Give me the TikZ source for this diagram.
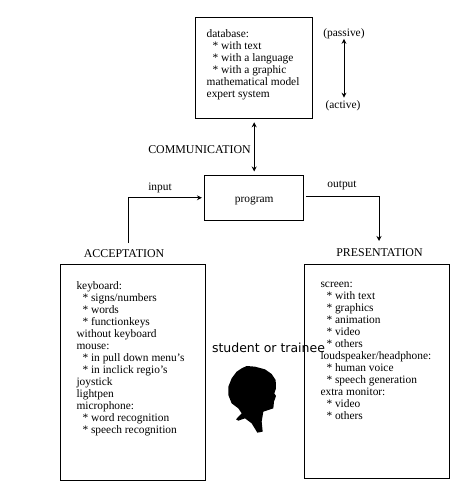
\documentclass[tikz,border=0pt]{standalone}
\usepackage{fontspec}
\setmainfont{Liberation Serif}
\newfontfamily\pixelsans{DejaVu Sans}
\usetikzlibrary{arrows.meta, positioning}

\begin{document}
\begin{tikzpicture}[
        x=1pt, y=-1pt,
        box/.style={draw, rectangle, line width=1pt, inner sep=0pt},
        listtext/.style={inner sep=0pt, align=left, font=\fontsize{11.4}{12}\selectfont},
        label/.style={inner sep=0pt, font=\fontsize{11.4}{12}\selectfont},
        heading/.style={inner sep=0pt, font=\fontsize{11.9}{12}\selectfont},
        arrow/.style={line width=0.9pt, >={Stealth[length=5pt,width=5pt]}}
    ]
        \useasboundingbox (0,0) rectangle (450,481);

        \node[box, minimum width=117.4pt, minimum height=101pt] (database) at (254.2,67.8) {};
        \node[box, minimum width=99.5pt, minimum height=44.5pt, below=56.2pt of database, text height=9.2pt, text depth=0pt, font=\fontsize{11.4}{12}\selectfont] (program) {program};
        \node[box, minimum width=145pt, minimum height=216pt] (acceptbox) at (132.8,372.3) {};
        \node[box, minimum width=145pt, minimum height=214pt] (presentbox) at (376.8,371.2) {};

        \node[listtext, below right=13pt and 11.5pt of database.north west] (databasetext) {database:\\
            \hspace*{6pt}* with text\\
            \hspace*{6pt}* with a language\\
            \hspace*{6pt}* with a graphic\\
            mathematical model\\
            expert system};
        \node[listtext, below right=18pt and 16.5pt of acceptbox.north west] (accepttext) {keyboard:\\
            \hspace*{6pt}* signs/numbers\\
            \hspace*{6pt}* words\\
            \hspace*{6pt}* functionkeys\\
            without keyboard\\
            mouse:\\
            \hspace*{6pt}* in pull down menu's\\
            \hspace*{6pt}* in inclick regio's\\
            joystick\\
            lightpen\\
            microphone:\\
            \hspace*{6pt}* word recognition\\
            \hspace*{6pt}* speech recognition};
        \node[listtext, below right=18pt and 16.5pt of presentbox.north west] (presenttext) {screen:\\
            \hspace*{6pt}* with text\\
            \hspace*{6pt}* graphics\\
            \hspace*{6pt}* animation\\
            \hspace*{6pt}* video\\
            \hspace*{6pt}* others\\
            loudspeaker/headphone:\\
            \hspace*{6pt}* human voice\\
            \hspace*{6pt}* speech generation\\
            extra monitor:\\
            \hspace*{6pt}* video\\
            \hspace*{6pt}* others};

        \node[label] (passive) at (344,33.5) {(passive)};
        \node[label] (active) at (343,106) {(active)};
        \node[heading] (communication) at (199.5,149.5) {COMMUNICATION};
        \node[label] (input) at (160,188) {input};
        \node[label] (output) at (342,186) {output};
        \node[heading] (acceptation) at (124,253.5) {ACCEPTATION};
        \node[heading] (presentation) at (379.5,252.5) {PRESENTATION};
        \node[inner sep=0pt, font=\pixelsans\fontsize{12.5}{12}\selectfont] (student) at (268.5,348) {student or trainee};

        \coordinate (inputstart) at (128,243);
        \coordinate (outputend) at (379,241);

        \draw[arrow, <->, shorten <=3.5pt, shorten >=3.5pt] (database) -- (program);
        \draw[arrow, <->, shorten >=3pt] (passive.south) -- (passive.south |- active.north);
        \draw[arrow, ->, shorten >=2pt] (inputstart) |- (program.west);
        \draw[arrow, ->, shorten <=1.5pt] ([yshift=1.5pt]program.east) -| (outputend);

        % silhouette
        \fill[black, shift={(220,360)}, x=0.3333pt, y=-0.3333pt]
            (80,18) -- (105,20) -- (135,28) -- (155,42) -- (167,60) -- (168,85) -- (163,100) -- (168,108)
            -- (162,125) -- (160,145) -- (130,155) -- (125,185) -- (128,215) -- (112,218) -- (95,190)
            -- (75,175) -- (55,182) -- (48,178) -- (65,160) -- (55,145) -- (35,130) -- (25,105) -- (25,80)
            -- (35,55) -- (50,35) -- (65,25) -- cycle;
    \end{tikzpicture}
\end{document}
